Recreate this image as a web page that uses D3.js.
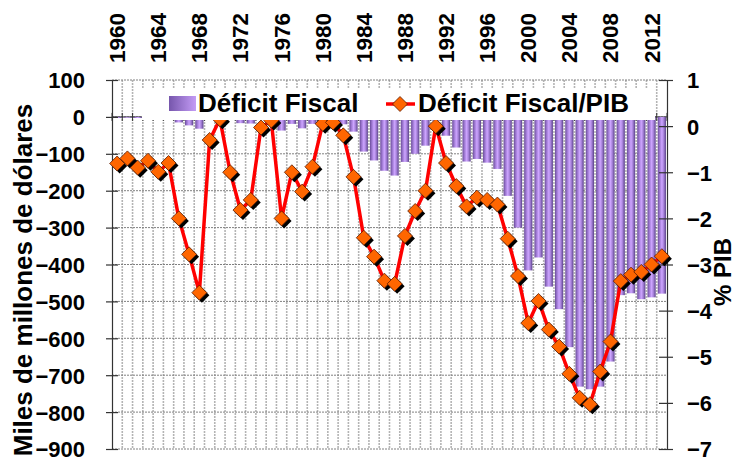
<!DOCTYPE html>
<html><head><meta charset="utf-8">
<script src="https://cdn.jsdelivr.net/npm/d3@7"></script>
<style>
body{margin:0;background:#fff;}
svg{display:block;}
text{font-family:"Liberation Sans",Arial,sans-serif;font-weight:bold;fill:#000;}
</style></head>
<body>
<script>
const years = [1960,1961,1962,1963,1964,1965,1966,1967,1968,1969,1970,1971,1972,1973,1974,1975,1976,1977,1978,1979,1980,1981,1982,1983,1984,1985,1986,1987,1988,1989,1990,1991,1992,1993,1994,1995,1996,1997,1998,1999,2000,2001,2002,2003,2004,2005,2006,2007,2008,2009,2010,2011,2012,2013];
const deficit = [-3,-2,-3,-1,-1,-1,-15,-23,-32,-3,-2,-8,-17,-18,-5,-6,-37,-19,-31,-19,-10,-8,-20,-40,-94,-118,-146,-159,-122,-100,-78,-10,-51,-83,-121,-114,-124,-141,-214,-300,-416,-381,-460,-521,-624,-731,-738,-731,-663,-483,-478,-494,-489,-479];
const deficitPIB = [-0.81,-0.70,-0.90,-0.75,-0.99,-0.80,-2.0,-2.78,-3.61,-0.30,0.15,-1.0,-1.82,-1.6,-0.03,0.12,-2.0,-1.0,-1.42,-0.88,0.05,0.08,-0.2,-1.1,-2.42,-2.83,-3.35,-3.42,-2.38,-1.84,-1.4,0.0,-0.8,-1.3,-1.74,-1.55,-1.6,-1.7,-2.44,-3.25,-4.27,-3.79,-4.41,-4.78,-5.37,-5.89,-6.03,-5.32,-4.67,-3.36,-3.22,-3.16,-3.0,-2.82];
const yearLabels = [1960,1964,1968,1972,1976,1980,1984,1988,1992,1996,2000,2004,2008,2012];
const leftTicks = [100,0,-100,-200,-300,-400,-500,-600,-700,-800,-900];
const rightTicks = [1,0,-1,-2,-3,-4,-5,-6,-7];
const seriesNames = ["Déficit Fiscal","Déficit Fiscal/PIB"];
const leftTitle = "Miles de millones de dólares";
const rightTitle = "% PIB";

const W=737,H=462;
const L=112,R=667,T=80,B=449;
const svg=d3.select("body").append("svg").attr("width",W).attr("height",H);

const x=d3.scaleBand().domain(years).range([L,R]).paddingInner(0.2).paddingOuter(0.1);
const yL=d3.scaleLinear().domain([-900,100]).range([B,T]);
const yR=d3.scaleLinear().domain([-7,1]).range([B,T]);
const step=x.step();

const defs=svg.append("defs");
const g=defs.append("linearGradient").attr("id","barg").attr("x1","0").attr("x2","1").attr("y1","0").attr("y2","0");
[["0%","#6a4c9a"],["25%","#a07ad4"],["50%","#cda5ff"],["72%","#a782da"],["100%","#5a418a"]].forEach(s=>g.append("stop").attr("offset",s[0]).attr("stop-color",s[1]));
const lg=defs.append("linearGradient").attr("id","legg").attr("x1","0").attr("x2","1").attr("y1","0").attr("y2","0");
[["0%","#7656ac"],["100%","#c49cf6"]].forEach(s=>lg.append("stop").attr("offset",s[0]).attr("stop-color",s[1]));

// vertical grid
const bounds=years.map(d=>x(d)+x.bandwidth()/2-step/2);
bounds.push(R);
svg.append("g").selectAll("line").data(bounds.slice(1,-1)).join("line")
 .attr("x1",d=>d).attr("x2",d=>d).attr("y1",T).attr("y2",B)
 .attr("stroke","#b4b4b4").attr("stroke-width",1.6).attr("stroke-dasharray","2,1");
// horizontal grid
svg.append("g").selectAll("line").data(leftTicks).join("line")
 .attr("x1",L).attr("x2",R).attr("y1",d=>yL(d)).attr("y2",d=>yL(d))
 .attr("stroke","#808080").attr("stroke-width",1).attr("stroke-dasharray","2,1");

// category axis line at 0 with cross ticks
svg.append("line").attr("x1",L).attr("x2",R).attr("y1",yL(0)).attr("y2",yL(0)).attr("stroke","#333").attr("stroke-width",1);
svg.append("g").selectAll("line").data(bounds).join("line")
 .attr("x1",d=>d).attr("x2",d=>d).attr("y1",yL(0)-4).attr("y2",yL(0)+4).attr("stroke","#333");

// bars
svg.append("g").selectAll("rect").data(years).join("rect")
 .attr("x",(d)=>x(d)).attr("width",x.bandwidth())
 .attr("y",(d,i)=>yL(Math.max(0,deficit[i]))).attr("height",(d,i)=>Math.abs(yL(deficit[i])-yL(0)))
 .attr("fill","url(#barg)");

// axes
const axL=svg.append("g").attr("transform",`translate(${L},0)`)
 .call(d3.axisLeft(yL).tickValues(leftTicks).tickSize(6).tickPadding(21).tickFormat(d3.format("d")));
axL.select(".domain").attr("stroke","#333").attr("stroke-width",1.2);
axL.selectAll(".tick line").attr("stroke","#333").attr("x1",6).attr("stroke-width",1.2);
axL.selectAll("text").style("font-size","22px").attr("font-family",null).attr("dy","0.36em");

const axR=svg.append("g").attr("transform",`translate(${R},0)`)
 .call(d3.axisRight(yR).tickValues(rightTicks).tickSize(6).tickPadding(14).tickFormat(d3.format("d")));
axR.select(".domain").attr("stroke","#333").attr("stroke-width",1.2);
axR.selectAll(".tick line").attr("stroke","#333").attr("x1",-8).attr("stroke-width",1.2);
axR.selectAll("text").style("font-size","22px").attr("font-family",null).attr("dy","0.36em");

// year labels (top)
svg.append("g").selectAll("text").data(yearLabels).join("text")
 .attr("transform",d=>`translate(${x(d)+x.bandwidth()/2+8},63) rotate(-90)`)
 .attr("text-anchor","start").style("font-size","22.5px").text(d=>d);

// line
const line=d3.line().x((d,i)=>x(years[i])+x.bandwidth()/2).y(d=>yR(d));
svg.append("path").datum(deficitPIB).attr("d",line).attr("fill","none").attr("stroke","#ff0000").attr("stroke-width",3.5).attr("stroke-linejoin","round");
const diamond=(s)=>`M0,${-s}L${s},0L0,${s}L${-s},0Z`;
const mk=svg.append("g").selectAll("g").data(deficitPIB).join("g")
 .attr("transform",(d,i)=>`translate(${x(years[i])+x.bandwidth()/2},${yR(d)})`);
mk.append("path").attr("d",diamond(7.5)).attr("transform","translate(2.5,2.5)").attr("fill","#000");
mk.append("path").attr("d",diamond(7.5)).attr("fill","#ff6600").attr("stroke","#5a1a00").attr("stroke-width",0.8);

// legend
svg.append("rect").attr("x",142).attr("y",88).attr("width",513).attr("height",32).attr("fill","#fff");
svg.append("rect").attr("x",169).attr("y",96).attr("width",27).attr("height",15).attr("fill","url(#legg)");
svg.append("text").attr("x",198).attr("y",112).style("font-size","26px").text(seriesNames[0]);
svg.append("line").attr("x1",386).attr("x2",415).attr("y1",104).attr("y2",104).attr("stroke","#ff0000").attr("stroke-width",3.5);
svg.append("path").attr("d",diamond(7.5)).attr("transform","translate(400,104)").attr("fill","#ff6600").attr("stroke","#5a1a00").attr("stroke-width",0.8);
svg.append("text").attr("x",418).attr("y",112).style("font-size","26px").text(seriesNames[1]);

// axis titles
svg.append("text").attr("transform","translate(32,280) rotate(-90)").attr("text-anchor","middle").style("font-size","26px").text(leftTitle);
svg.append("text").attr("transform","translate(731,272) rotate(-90)").attr("text-anchor","middle").style("font-size","24px").text(rightTitle);
</script>
</body></html>
